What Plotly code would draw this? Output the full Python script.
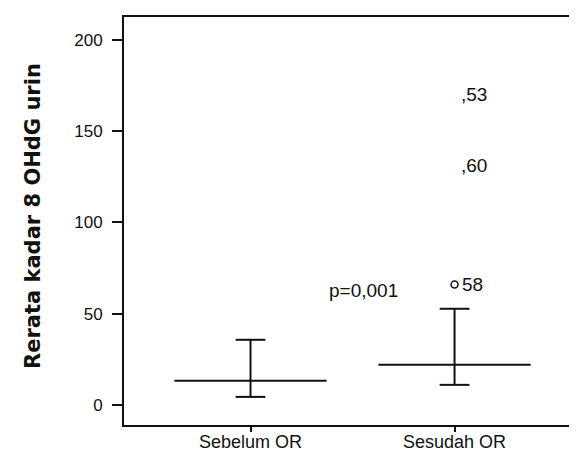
import plotly.graph_objects as go

categories = ["Sebelum OR", "Sesudah OR"]
medians = [13.2, 22.0]
whisker_low = [4.4, 11.0]
whisker_high = [35.7, 52.7]
outlier_labels = ["58", ",60", ",53"]
outlier_values = [66.0, 131.0, 170.0]
outlier_marked = [True, False, False]
y_ticks = [0, 50, 100, 150, 200]
p_text = "p=0,001"
p_pos = (0.555, 62.6)
y_title = "Rerata kadar 8 OHdG urin"

MED_HALF = 0.373
CAP_HALF = 0.073
FONT = "Liberation Sans, Arial, sans-serif"
TITLE_FONT = "DejaVu Sans, Liberation Sans, sans-serif"

fig = go.Figure()
for i, cat in enumerate(categories):
    xs, ys = [], []
    xs += [i - MED_HALF, i + MED_HALF, None]
    ys += [medians[i], medians[i], None]
    xs += [i, i, None]
    ys += [whisker_low[i], whisker_high[i], None]
    xs += [i - CAP_HALF, i + CAP_HALF, None, i - CAP_HALF, i + CAP_HALF]
    ys += [whisker_low[i], whisker_low[i], None, whisker_high[i], whisker_high[i]]
    fig.add_trace(go.Scatter(x=xs, y=ys, mode="lines",
                             line=dict(color="#111", width=2), showlegend=False,
                             hoverinfo="skip"))

mx = [1 for m in outlier_marked if m]
my = [v for v, m in zip(outlier_values, outlier_marked) if m]
fig.add_trace(go.Scatter(x=mx, y=my, mode="markers",
                         marker=dict(symbol="circle-open", size=7,
                                     color="#111", line=dict(width=1.5)),
                         showlegend=False))
for lab, val, m in zip(outlier_labels, outlier_values, outlier_marked):
    fig.add_annotation(x=1, y=val, text=lab, showarrow=False,
                       xanchor="left", yanchor="middle", xshift=5 if m else 4,
                       font=dict(family=FONT, size=19, color="#111"))

fig.add_annotation(x=p_pos[0], y=p_pos[1], text=p_text, showarrow=False,
                   xanchor="center", yanchor="middle",
                   font=dict(family=FONT, size=19, color="#111"))

fig.add_annotation(xref="paper", yref="paper", x=0, y=0.5, xshift=-91, yshift=5,
                   text="<b>%s</b>" % y_title, textangle=-90, showarrow=False,
                   xanchor="center", yanchor="middle",
                   font=dict(family=TITLE_FONT, size=21, color="#111"))

fig.update_xaxes(range=[-0.62, 1.605], tickvals=[0, 1], ticktext=categories,
                 ticks="outside", ticklen=5, tickwidth=1.5, tickcolor="#111",
                 ticklabelstandoff=-6,
                 showline=True, linecolor="#111", linewidth=2, mirror=True,
                 showgrid=False, zeroline=False,
                 tickfont=dict(family=FONT, size=18, color="#111"))
fig.update_yaxes(range=[-11, 212.6], tickvals=y_ticks,
                 ticktext=[str(t) for t in y_ticks],
                 ticks="outside", ticklen=10, tickwidth=1.5, tickcolor="#111",
                 ticklabelstandoff=6,
                 showline=True, linecolor="#111", linewidth=2, mirror=True,
                 showgrid=False, zeroline=False,
                 tickfont=dict(family=FONT, size=17, color="#111"))
fig.update_layout(width=577, height=454, margin=dict(l=116, r=5, t=9, b=37),
                  paper_bgcolor="white", plot_bgcolor="white")
fig.write_html("out.html")
